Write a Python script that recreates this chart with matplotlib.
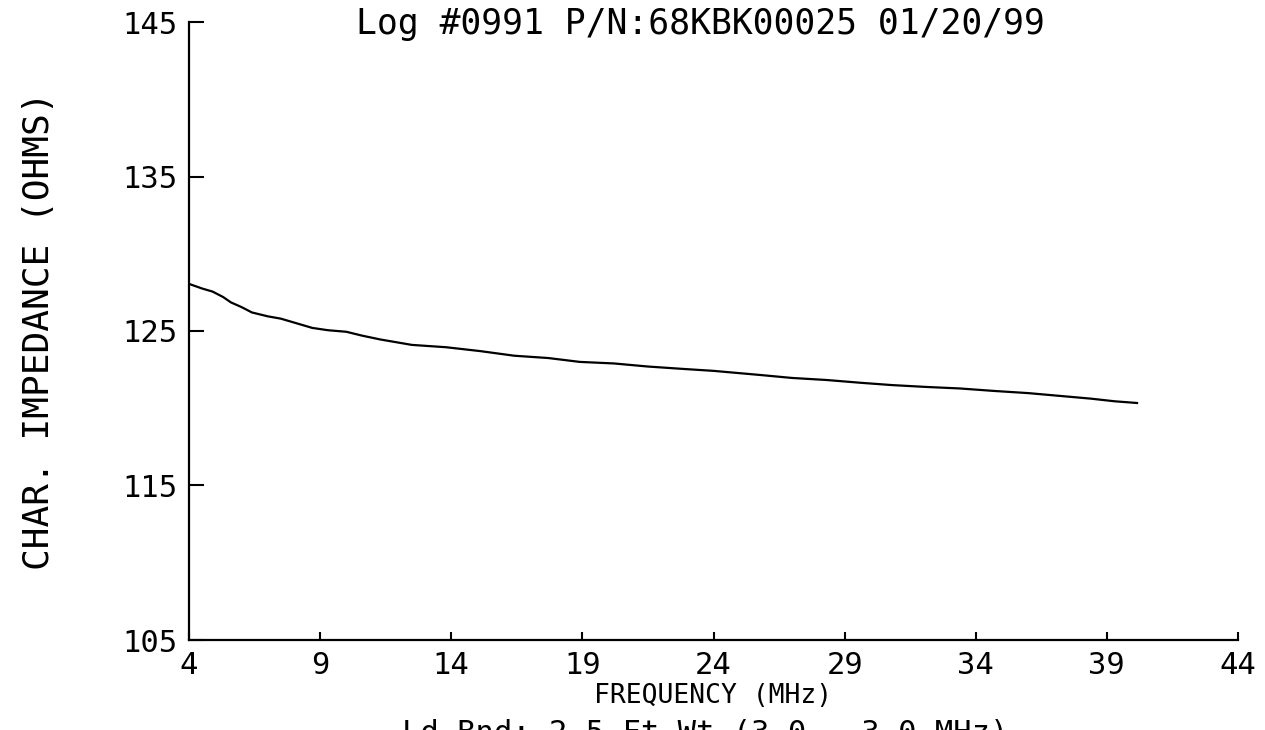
import matplotlib
matplotlib.use("Agg")
import matplotlib.pyplot as plt

# Data
freq_mhz = [4.0, 4.5, 4.9, 5.3, 5.6, 6.0, 6.4, 7.0, 7.5, 8.1, 8.7, 9.3, 10.0, 10.6,
            11.3, 12.5, 13.8, 15.1, 16.4, 17.7, 18.9, 20.2, 21.5, 22.8, 24.0, 25.8,
            27.0, 28.3, 29.6, 30.8, 32.1, 33.4, 34.7, 36.0, 37.2, 38.4, 39.3, 40.15]
impedance = [128.05, 127.75, 127.55, 127.20, 126.85, 126.55, 126.20, 125.95, 125.80,
             125.50, 125.20, 125.05, 124.95, 124.70, 124.45, 124.10, 123.95, 123.70,
             123.40, 123.25, 123.00, 122.90, 122.70, 122.55, 122.42, 122.15, 121.96,
             121.83, 121.65, 121.50, 121.38, 121.28, 121.12, 120.98, 120.80, 120.62,
             120.45, 120.34]

x_ticks = [4, 9, 14, 19, 24, 29, 34, 39, 44]
y_ticks = [105, 115, 125, 135, 145]

title_text = "Log #0991 P/N:68KBK00025 01/20/99"
x_label = "FREQUENCY (MHz)"
y_label = "CHAR. IMPEDANCE (OHMS)"
bottom_text = "Ld Bnd: 2.5 Ft Wt (3.0 - 3.0 MHz)"

FONT = "DejaVu Sans Mono"

fig = plt.figure(figsize=(12.65, 7.3), dpi=100)
fig.patch.set_facecolor("white")
ax = fig.add_axes([189 / 1265, 1 - 640 / 730, (1238 - 189) / 1265, (640 - 22) / 730])

ax.plot(freq_mhz, impedance, color="black", linewidth=1.6)

ax.set_xlim(4, 44)
ax.set_ylim(105, 145)
ax.set_xticks(x_ticks)
ax.set_yticks(y_ticks)
ax.set_xticklabels([str(t) for t in x_ticks], family=FONT, fontsize=22)
ax.set_yticklabels([str(t) for t in y_ticks], family=FONT, fontsize=22)
ax.tick_params(axis="x", direction="in", length=6, width=1.5, pad=8)
ax.tick_params(axis="y", direction="in", length=11, width=1.5, pad=8)

for s in ["top", "right"]:
    ax.spines[s].set_visible(False)
for s in ["left", "bottom"]:
    ax.spines[s].set_linewidth(1.6)

ax.set_xlabel(x_label, family=FONT, fontsize=19, labelpad=2)
ax.set_ylabel(y_label, family=FONT, fontsize=26, labelpad=48)

fig.text(700 / 1265, 1 - 24 / 730, title_text, family=FONT, fontsize=25,
         ha="center", va="center")
fig.text(705 / 1265, 1 - 719 / 730, bottom_text, family=FONT, fontsize=22,
         ha="center", va="top")

fig.savefig("out.png", dpi=100)
